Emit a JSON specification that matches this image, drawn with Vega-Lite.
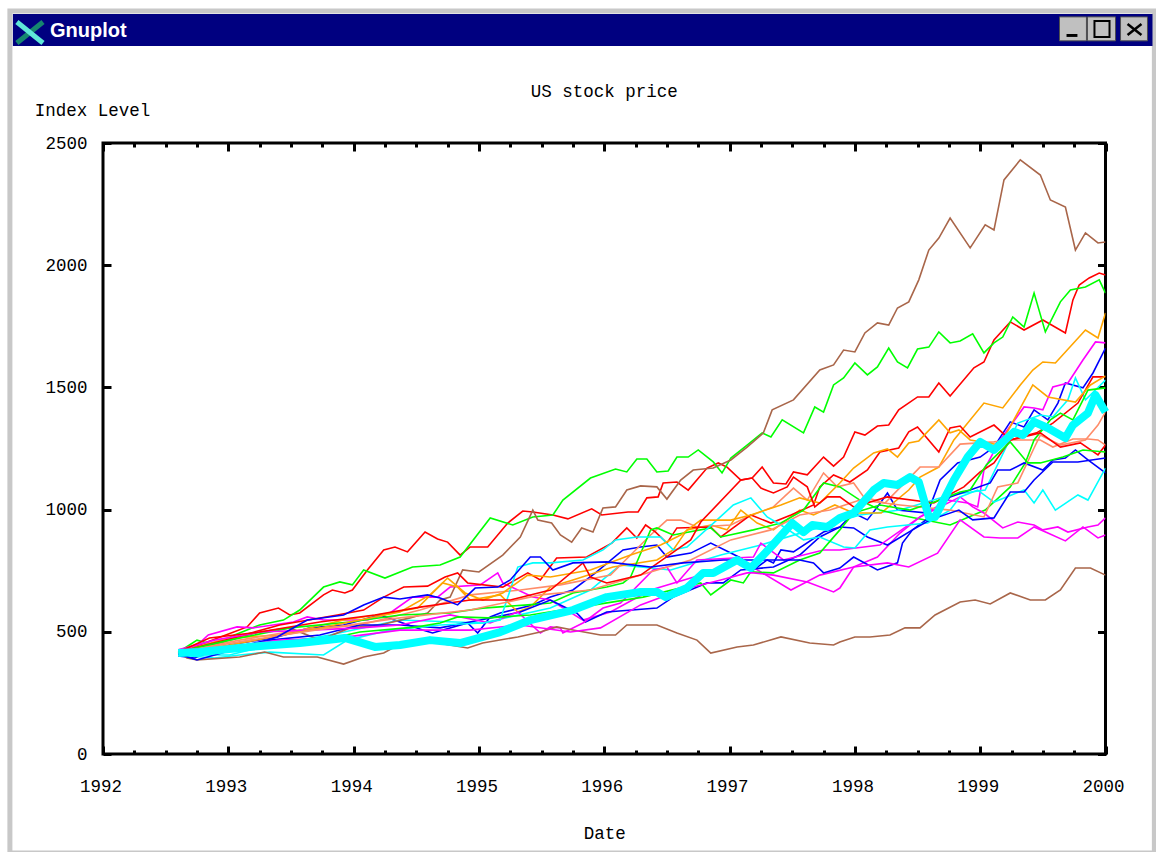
{"$schema":"https://vega.github.io/schema/vega-lite/v6.json","width":1002.5,"height":611,"autosize":{"type":"none"},"padding":{"left":103,"top":143,"right":50,"bottom":98},"background":"#ffffff","config":{"view":{"stroke":"#000000","strokeWidth":3,"fill":null},"font":"Liberation Mono"},
"title":{"text":"US stock price","anchor":"middle","offset":-92,"font":"Liberation Mono","fontSize":17.5,"fontWeight":"normal","color":"#000000"},
"datasets":{"window":[{"name":"Gnuplot"}],
"funds":[
{"fund":1,"year":1992.6,"level":417},{"fund":1,"year":1992.65,"level":426},{"fund":1,"year":1992.77,"level":446},{"fund":1,"year":1992.98,"level":487},{"fund":1,"year":1993.15,"level":520},{"fund":1,"year":1993.25,"level":577},{"fund":1,"year":1993.4,"level":597},{"fund":1,"year":1993.49,"level":569},{"fund":1,"year":1993.57,"level":577},{"fund":1,"year":1993.76,"level":651},{"fund":1,"year":1993.83,"level":671},{"fund":1,"year":1993.93,"level":659},{"fund":1,"year":1993.99,"level":671},{"fund":1,"year":1994.11,"level":753},{"fund":1,"year":1994.24,"level":835},{"fund":1,"year":1994.33,"level":847},{"fund":1,"year":1994.43,"level":827},{"fund":1,"year":1994.57,"level":908},{"fund":1,"year":1994.67,"level":880},{"fund":1,"year":1994.75,"level":867},{"fund":1,"year":1994.85,"level":814},{"fund":1,"year":1994.93,"level":847},{"fund":1,"year":1995.07,"level":847},{"fund":1,"year":1995.23,"level":945},{"fund":1,"year":1995.35,"level":994},{"fund":1,"year":1995.43,"level":990},{"fund":1,"year":1995.59,"level":978},{"fund":1,"year":1995.71,"level":962},{"fund":1,"year":1995.9,"level":1003},{"fund":1,"year":1995.98,"level":978},{"fund":1,"year":1996.19,"level":990},{"fund":1,"year":1996.27,"level":990},{"fund":1,"year":1996.34,"level":1048},{"fund":1,"year":1996.43,"level":1052},{"fund":1,"year":1996.47,"level":1109},{"fund":1,"year":1996.58,"level":1113},{"fund":1,"year":1996.67,"level":1080},{"fund":1,"year":1996.82,"level":1170},{"fund":1,"year":1996.91,"level":1191},{"fund":1,"year":1996.98,"level":1174},{"fund":1,"year":1997.09,"level":1121},{"fund":1,"year":1997.18,"level":1129},{"fund":1,"year":1997.26,"level":1174},{"fund":1,"year":1997.35,"level":1109},{"fund":1,"year":1997.45,"level":1105},{"fund":1,"year":1997.51,"level":1154},{"fund":1,"year":1997.62,"level":1142},{"fund":1,"year":1997.75,"level":1215},{"fund":1,"year":1997.83,"level":1178},{"fund":1,"year":1997.91,"level":1215},{"fund":1,"year":1998.0,"level":1318},{"fund":1,"year":1998.08,"level":1305},{"fund":1,"year":1998.18,"level":1342},{"fund":1,"year":1998.27,"level":1346},{"fund":1,"year":1998.35,"level":1408},{"fund":1,"year":1998.5,"level":1461},{"fund":1,"year":1998.59,"level":1461},{"fund":1,"year":1998.67,"level":1518},{"fund":1,"year":1998.76,"level":1465},{"fund":1,"year":1998.95,"level":1580},{"fund":1,"year":1999.03,"level":1604},{"fund":1,"year":1999.11,"level":1694},{"fund":1,"year":1999.24,"level":1768},{"fund":1,"year":1999.35,"level":1735},{"fund":1,"year":1999.5,"level":1776},{"fund":1,"year":1999.68,"level":1723},{"fund":1,"year":1999.74,"level":1858},{"fund":1,"year":1999.79,"level":1919},{"fund":1,"year":1999.87,"level":1948},{"fund":1,"year":1999.95,"level":1968},{"fund":1,"year":2000,"level":1960},
{"fund":2,"year":1992.6,"level":417},{"fund":2,"year":1992.69,"level":446},{"fund":2,"year":1992.75,"level":466},{"fund":2,"year":1992.89,"level":446},{"fund":2,"year":1993.05,"level":487},{"fund":2,"year":1993.25,"level":528},{"fund":2,"year":1993.44,"level":548},{"fund":2,"year":1993.57,"level":589},{"fund":2,"year":1993.76,"level":683},{"fund":2,"year":1993.89,"level":704},{"fund":2,"year":1993.99,"level":692},{"fund":2,"year":1994.08,"level":753},{"fund":2,"year":1994.25,"level":720},{"fund":2,"year":1994.47,"level":765},{"fund":2,"year":1994.69,"level":773},{"fund":2,"year":1994.85,"level":806},{"fund":2,"year":1995.09,"level":966},{"fund":2,"year":1995.27,"level":937},{"fund":2,"year":1995.43,"level":970},{"fund":2,"year":1995.59,"level":978},{"fund":2,"year":1995.67,"level":1039},{"fund":2,"year":1995.89,"level":1129},{"fund":2,"year":1996.09,"level":1166},{"fund":2,"year":1996.18,"level":1154},{"fund":2,"year":1996.26,"level":1207},{"fund":2,"year":1996.34,"level":1207},{"fund":2,"year":1996.42,"level":1154},{"fund":2,"year":1996.51,"level":1158},{"fund":2,"year":1996.58,"level":1215},{"fund":2,"year":1996.67,"level":1215},{"fund":2,"year":1996.75,"level":1244},{"fund":2,"year":1996.87,"level":1195},{"fund":2,"year":1996.94,"level":1150},{"fund":2,"year":1997.01,"level":1211},{"fund":2,"year":1997.14,"level":1264},{"fund":2,"year":1997.26,"level":1314},{"fund":2,"year":1997.33,"level":1297},{"fund":2,"year":1997.42,"level":1367},{"fund":2,"year":1997.59,"level":1314},{"fund":2,"year":1997.68,"level":1420},{"fund":2,"year":1997.75,"level":1399},{"fund":2,"year":1997.83,"level":1510},{"fund":2,"year":1997.91,"level":1539},{"fund":2,"year":1998.0,"level":1600},{"fund":2,"year":1998.1,"level":1551},{"fund":2,"year":1998.18,"level":1584},{"fund":2,"year":1998.27,"level":1661},{"fund":2,"year":1998.34,"level":1604},{"fund":2,"year":1998.42,"level":1580},{"fund":2,"year":1998.5,"level":1657},{"fund":2,"year":1998.59,"level":1665},{"fund":2,"year":1998.67,"level":1727},{"fund":2,"year":1998.76,"level":1682},{"fund":2,"year":1998.84,"level":1690},{"fund":2,"year":1998.94,"level":1719},{"fund":2,"year":1999.03,"level":1641},{"fund":2,"year":1999.11,"level":1682},{"fund":2,"year":1999.18,"level":1706},{"fund":2,"year":1999.26,"level":1788},{"fund":2,"year":1999.35,"level":1747},{"fund":2,"year":1999.43,"level":1886},{"fund":2,"year":1999.52,"level":1727},{"fund":2,"year":1999.64,"level":1850},{"fund":2,"year":1999.72,"level":1899},{"fund":2,"year":1999.84,"level":1911},{"fund":2,"year":1999.95,"level":1940},{"fund":2,"year":2000,"level":1886},
{"fund":3,"year":1992.6,"level":401},{"fund":3,"year":1992.73,"level":393},{"fund":3,"year":1993.01,"level":446},{"fund":3,"year":1993.39,"level":479},{"fund":3,"year":1993.65,"level":516},{"fund":3,"year":1993.92,"level":528},{"fund":3,"year":1994.21,"level":569},{"fund":3,"year":1994.55,"level":507},{"fund":3,"year":1994.63,"level":495},{"fund":3,"year":1994.91,"level":536},{"fund":3,"year":1994.99,"level":495},{"fund":3,"year":1995.09,"level":561},{"fund":3,"year":1995.17,"level":577},{"fund":3,"year":1995.43,"level":610},{"fund":3,"year":1995.57,"level":642},{"fund":3,"year":1995.75,"level":671},{"fund":3,"year":1995.93,"level":741},{"fund":3,"year":1996.15,"level":835},{"fund":3,"year":1996.29,"level":847},{"fund":3,"year":1996.42,"level":855},{"fund":3,"year":1996.5,"level":806},{"fund":3,"year":1996.69,"level":822},{"fund":3,"year":1996.85,"level":863},{"fund":3,"year":1997.09,"level":802},{"fund":3,"year":1997.19,"level":753},{"fund":3,"year":1997.3,"level":794},{"fund":3,"year":1997.35,"level":782},{"fund":3,"year":1997.41,"level":835},{"fund":3,"year":1997.51,"level":827},{"fund":3,"year":1997.75,"level":908},{"fund":3,"year":1997.88,"level":929},{"fund":3,"year":1997.99,"level":986},{"fund":3,"year":1998.1,"level":958},{"fund":3,"year":1998.18,"level":1011},{"fund":3,"year":1998.26,"level":1068},{"fund":3,"year":1998.34,"level":998},{"fund":3,"year":1998.58,"level":986},{"fund":3,"year":1998.68,"level":1121},{"fund":3,"year":1998.82,"level":1191},{"fund":3,"year":1999.0,"level":1215},{"fund":3,"year":1999.11,"level":1256},{"fund":3,"year":1999.24,"level":1359},{"fund":3,"year":1999.35,"level":1338},{"fund":3,"year":1999.43,"level":1408},{"fund":3,"year":1999.54,"level":1367},{"fund":3,"year":1999.62,"level":1436},{"fund":3,"year":1999.68,"level":1518},{"fund":3,"year":1999.82,"level":1498},{"fund":3,"year":1999.9,"level":1559},{"fund":3,"year":2000,"level":1661},
{"fund":4,"year":1992.6,"level":409},{"fund":4,"year":1992.77,"level":454},{"fund":4,"year":1992.84,"level":487},{"fund":4,"year":1993.07,"level":520},{"fund":4,"year":1993.2,"level":516},{"fund":4,"year":1993.52,"level":540},{"fund":4,"year":1993.63,"level":561},{"fund":4,"year":1993.76,"level":548},{"fund":4,"year":1994.11,"level":548},{"fund":4,"year":1994.29,"level":577},{"fund":4,"year":1994.47,"level":642},{"fund":4,"year":1994.67,"level":642},{"fund":4,"year":1994.77,"level":683},{"fund":4,"year":1995.01,"level":692},{"fund":4,"year":1995.15,"level":741},{"fund":4,"year":1995.19,"level":700},{"fund":4,"year":1995.43,"level":642},{"fund":4,"year":1995.57,"level":630},{"fund":4,"year":1995.83,"level":548},{"fund":4,"year":1996.05,"level":581},{"fund":4,"year":1996.37,"level":671},{"fund":4,"year":1996.77,"level":732},{"fund":4,"year":1997.09,"level":794},{"fund":4,"year":1997.49,"level":671},{"fund":4,"year":1997.72,"level":732},{"fund":4,"year":1997.99,"level":765},{"fund":4,"year":1998.18,"level":806},{"fund":4,"year":1998.36,"level":904},{"fund":4,"year":1998.52,"level":970},{"fund":4,"year":1998.74,"level":1039},{"fund":4,"year":1998.9,"level":1027},{"fund":4,"year":1998.98,"level":1011},{"fund":4,"year":1999.03,"level":1162},{"fund":4,"year":1999.16,"level":1285},{"fund":4,"year":1999.35,"level":1420},{"fund":4,"year":1999.43,"level":1416},{"fund":4,"year":1999.5,"level":1408},{"fund":4,"year":1999.58,"level":1502},{"fund":4,"year":1999.7,"level":1518},{"fund":4,"year":1999.82,"level":1612},{"fund":4,"year":1999.92,"level":1686},{"fund":4,"year":2000,"level":1682},
{"fund":5,"year":1992.6,"level":405},{"fund":5,"year":1993.01,"level":405},{"fund":5,"year":1993.33,"level":446},{"fund":5,"year":1993.81,"level":487},{"fund":5,"year":1994.37,"level":548},{"fund":5,"year":1995.03,"level":536},{"fund":5,"year":1995.57,"level":597},{"fund":5,"year":1995.89,"level":671},{"fund":5,"year":1996.13,"level":774},{"fund":5,"year":1996.53,"level":753},{"fund":5,"year":1996.93,"level":814},{"fund":5,"year":1997.25,"level":855},{"fund":5,"year":1997.65,"level":917},{"fund":5,"year":1998.04,"level":978},{"fund":5,"year":1998.36,"level":998},{"fund":5,"year":1998.76,"level":1060},{"fund":5,"year":1999.04,"level":1080},{"fund":5,"year":1999.3,"level":1354},{"fund":5,"year":1999.48,"level":1387},{"fund":5,"year":1999.58,"level":1379},{"fund":5,"year":1999.7,"level":1449},{"fund":5,"year":1999.76,"level":1539},{"fund":5,"year":1999.84,"level":1449},{"fund":5,"year":2000,"level":1530},
{"fund":6,"year":1992.6,"level":417},{"fund":6,"year":1992.77,"level":426},{"fund":6,"year":1993.01,"level":466},{"fund":6,"year":1993.25,"level":499},{"fund":6,"year":1993.49,"level":516},{"fund":6,"year":1993.73,"level":466},{"fund":6,"year":1993.97,"level":516},{"fund":6,"year":1994.21,"level":528},{"fund":6,"year":1994.45,"level":557},{"fund":6,"year":1994.59,"level":577},{"fund":6,"year":1994.69,"level":630},{"fund":6,"year":1994.77,"level":642},{"fund":6,"year":1994.87,"level":753},{"fund":6,"year":1995.0,"level":745},{"fund":6,"year":1995.19,"level":814},{"fund":6,"year":1995.33,"level":888},{"fund":6,"year":1995.43,"level":998},{"fund":6,"year":1995.47,"level":957},{"fund":6,"year":1995.58,"level":945},{"fund":6,"year":1995.65,"level":896},{"fund":6,"year":1995.74,"level":867},{"fund":6,"year":1995.82,"level":925},{"fund":6,"year":1995.91,"level":908},{"fund":6,"year":1995.99,"level":1007},{"fund":6,"year":1996.09,"level":1011},{"fund":6,"year":1996.18,"level":1080},{"fund":6,"year":1996.29,"level":1097},{"fund":6,"year":1996.42,"level":1093},{"fund":6,"year":1996.5,"level":1043},{"fund":6,"year":1996.61,"level":1121},{"fund":6,"year":1996.71,"level":1162},{"fund":6,"year":1996.87,"level":1170},{"fund":6,"year":1997.01,"level":1203},{"fund":6,"year":1997.14,"level":1256},{"fund":6,"year":1997.27,"level":1314},{"fund":6,"year":1997.34,"level":1408},{"fund":6,"year":1997.51,"level":1449},{"fund":6,"year":1997.72,"level":1571},{"fund":6,"year":1997.83,"level":1592},{"fund":6,"year":1997.91,"level":1653},{"fund":6,"year":1998.0,"level":1645},{"fund":6,"year":1998.08,"level":1723},{"fund":6,"year":1998.18,"level":1764},{"fund":6,"year":1998.27,"level":1755},{"fund":6,"year":1998.34,"level":1825},{"fund":6,"year":1998.43,"level":1850},{"fund":6,"year":1998.51,"level":1940},{"fund":6,"year":1998.59,"level":2062},{"fund":6,"year":1998.67,"level":2111},{"fund":6,"year":1998.76,"level":2193},{"fund":6,"year":1998.92,"level":2071},{"fund":6,"year":1999.04,"level":2165},{"fund":6,"year":1999.11,"level":2144},{"fund":6,"year":1999.19,"level":2349},{"fund":6,"year":1999.32,"level":2431},{"fund":6,"year":1999.48,"level":2369},{"fund":6,"year":1999.56,"level":2267},{"fund":6,"year":1999.68,"level":2238},{"fund":6,"year":1999.76,"level":2062},{"fund":6,"year":1999.84,"level":2132},{"fund":6,"year":1999.94,"level":2091},{"fund":6,"year":2000,"level":2095},
{"fund":7,"year":1992.6,"level":417},{"fund":7,"year":1993.01,"level":475},{"fund":7,"year":1993.41,"level":487},{"fund":7,"year":1993.92,"level":548},{"fund":7,"year":1994.29,"level":577},{"fund":7,"year":1994.51,"level":597},{"fund":7,"year":1994.71,"level":700},{"fund":7,"year":1994.83,"level":683},{"fund":7,"year":1994.93,"level":630},{"fund":7,"year":1995.17,"level":651},{"fund":7,"year":1995.31,"level":581},{"fund":7,"year":1995.41,"level":601},{"fund":7,"year":1995.57,"level":683},{"fund":7,"year":1995.75,"level":712},{"fund":7,"year":1996.07,"level":765},{"fund":7,"year":1996.42,"level":794},{"fund":7,"year":1996.55,"level":835},{"fund":7,"year":1996.66,"level":917},{"fund":7,"year":1996.85,"level":937},{"fund":7,"year":1996.98,"level":917},{"fund":7,"year":1997.09,"level":998},{"fund":7,"year":1997.22,"level":945},{"fund":7,"year":1997.35,"level":917},{"fund":7,"year":1997.56,"level":998},{"fund":7,"year":1997.67,"level":978},{"fund":7,"year":1997.84,"level":1019},{"fund":7,"year":1997.99,"level":986},{"fund":7,"year":1998.21,"level":986},{"fund":7,"year":1998.43,"level":1080},{"fund":7,"year":1998.52,"level":1133},{"fund":7,"year":1998.67,"level":1174},{"fund":7,"year":1998.79,"level":1285},{"fund":7,"year":1999.03,"level":1436},{"fund":7,"year":1999.18,"level":1416},{"fund":7,"year":1999.32,"level":1510},{"fund":7,"year":1999.42,"level":1571},{"fund":7,"year":1999.5,"level":1604},{"fund":7,"year":1999.6,"level":1600},{"fund":7,"year":1999.84,"level":1735},{"fund":7,"year":1999.94,"level":1702},{"fund":7,"year":2000,"level":1805},
{"fund":8,"year":1992.6,"level":417},{"fund":8,"year":1993.09,"level":466},{"fund":8,"year":1993.57,"level":507},{"fund":8,"year":1994.05,"level":528},{"fund":8,"year":1994.53,"level":589},{"fund":8,"year":1994.93,"level":651},{"fund":8,"year":1995.33,"level":671},{"fund":8,"year":1995.65,"level":692},{"fund":8,"year":1996.05,"level":732},{"fund":8,"year":1996.37,"level":896},{"fund":8,"year":1996.5,"level":957},{"fund":8,"year":1996.61,"level":957},{"fund":8,"year":1996.74,"level":929},{"fund":8,"year":1997.01,"level":937},{"fund":8,"year":1997.14,"level":970},{"fund":8,"year":1997.35,"level":1011},{"fund":8,"year":1997.51,"level":1088},{"fund":8,"year":1997.62,"level":1039},{"fund":8,"year":1997.75,"level":1150},{"fund":8,"year":1997.86,"level":1093},{"fund":8,"year":1997.99,"level":1109},{"fund":8,"year":1998.07,"level":1052},{"fund":8,"year":1998.24,"level":1027},{"fund":8,"year":1998.52,"level":1174},{"fund":8,"year":1998.67,"level":1174},{"fund":8,"year":1998.84,"level":1268},{"fund":8,"year":1999.11,"level":1277},{"fund":8,"year":1999.24,"level":1285},{"fund":8,"year":1999.48,"level":1285},{"fund":8,"year":1999.58,"level":1256},{"fund":8,"year":1999.74,"level":1289},{"fund":8,"year":1999.86,"level":1289},{"fund":8,"year":1999.94,"level":1285},{"fund":8,"year":2000,"level":1264},
{"fund":9,"year":1992.6,"level":417},{"fund":9,"year":1992.98,"level":466},{"fund":9,"year":1993.41,"level":528},{"fund":9,"year":1993.87,"level":569},{"fund":9,"year":1994.08,"level":589},{"fund":9,"year":1994.24,"level":642},{"fund":9,"year":1994.4,"level":683},{"fund":9,"year":1994.59,"level":687},{"fund":9,"year":1994.73,"level":724},{"fund":9,"year":1994.83,"level":741},{"fund":9,"year":1994.91,"level":700},{"fund":9,"year":1995.19,"level":683},{"fund":9,"year":1995.39,"level":741},{"fund":9,"year":1995.49,"level":712},{"fund":9,"year":1995.62,"level":802},{"fund":9,"year":1995.86,"level":806},{"fund":9,"year":1996.06,"level":863},{"fund":9,"year":1996.18,"level":925},{"fund":9,"year":1996.26,"level":884},{"fund":9,"year":1996.33,"level":937},{"fund":9,"year":1996.41,"level":908},{"fund":9,"year":1996.5,"level":863},{"fund":9,"year":1996.58,"level":925},{"fund":9,"year":1996.85,"level":929},{"fund":9,"year":1996.93,"level":888},{"fund":9,"year":1997.17,"level":978},{"fund":9,"year":1997.33,"level":945},{"fund":9,"year":1997.49,"level":978},{"fund":9,"year":1997.67,"level":1019},{"fund":9,"year":1997.72,"level":1093},{"fund":9,"year":1997.83,"level":1142},{"fund":9,"year":1997.96,"level":1113},{"fund":9,"year":1998.1,"level":1162},{"fund":9,"year":1998.2,"level":1236},{"fund":9,"year":1998.35,"level":1252},{"fund":9,"year":1998.43,"level":1318},{"fund":9,"year":1998.5,"level":1338},{"fund":9,"year":1998.67,"level":1236},{"fund":9,"year":1998.76,"level":1334},{"fund":9,"year":1998.84,"level":1342},{"fund":9,"year":1998.92,"level":1297},{"fund":9,"year":1999.11,"level":1346},{"fund":9,"year":1999.24,"level":1285},{"fund":9,"year":1999.45,"level":1314},{"fund":9,"year":1999.58,"level":1354},{"fund":9,"year":1999.78,"level":1436},{"fund":9,"year":1999.9,"level":1543},{"fund":9,"year":2000,"level":1543},
{"fund":10,"year":1992.6,"level":417},{"fund":10,"year":1993.01,"level":466},{"fund":10,"year":1993.49,"level":516},{"fund":10,"year":1993.97,"level":540},{"fund":10,"year":1994.37,"level":569},{"fund":10,"year":1994.77,"level":577},{"fund":10,"year":1995.03,"level":597},{"fund":10,"year":1995.39,"level":610},{"fund":10,"year":1995.57,"level":618},{"fund":10,"year":1995.75,"level":659},{"fund":10,"year":1996.02,"level":683},{"fund":10,"year":1996.15,"level":700},{"fund":10,"year":1996.21,"level":724},{"fund":10,"year":1996.37,"level":917},{"fund":10,"year":1996.42,"level":925},{"fund":10,"year":1996.55,"level":896},{"fund":10,"year":1996.85,"level":925},{"fund":10,"year":1996.93,"level":888},{"fund":10,"year":1997.19,"level":917},{"fund":10,"year":1997.41,"level":945},{"fund":10,"year":1997.59,"level":998},{"fund":10,"year":1997.75,"level":1109},{"fund":10,"year":1997.88,"level":1093},{"fund":10,"year":1998.04,"level":1039},{"fund":10,"year":1998.2,"level":998},{"fund":10,"year":1998.36,"level":978},{"fund":10,"year":1998.76,"level":937},{"fund":10,"year":1999.04,"level":998},{"fund":10,"year":1999.24,"level":1093},{"fund":10,"year":1999.36,"level":1191},{"fund":10,"year":1999.43,"level":1285},{"fund":10,"year":1999.56,"level":1367},{"fund":10,"year":1999.64,"level":1395},{"fund":10,"year":1999.74,"level":1367},{"fund":10,"year":1999.86,"level":1489},{"fund":10,"year":2000,"level":1498},
{"fund":11,"year":1992.6,"level":409},{"fund":11,"year":1992.93,"level":426},{"fund":11,"year":1993.33,"level":466},{"fund":11,"year":1993.73,"level":487},{"fund":11,"year":1994.05,"level":528},{"fund":11,"year":1994.37,"level":528},{"fund":11,"year":1994.69,"level":516},{"fund":11,"year":1995.01,"level":548},{"fund":11,"year":1995.33,"level":581},{"fund":11,"year":1995.57,"level":630},{"fund":11,"year":1995.78,"level":577},{"fund":11,"year":1995.85,"level":540},{"fund":11,"year":1996.02,"level":581},{"fund":11,"year":1996.42,"level":597},{"fund":11,"year":1996.55,"level":642},{"fund":11,"year":1996.82,"level":700},{"fund":11,"year":1996.95,"level":700},{"fund":11,"year":1997.09,"level":753},{"fund":11,"year":1997.35,"level":765},{"fund":11,"year":1997.56,"level":814},{"fund":11,"year":1997.72,"level":888},{"fund":11,"year":1997.88,"level":929},{"fund":11,"year":1997.99,"level":925},{"fund":11,"year":1998.1,"level":888},{"fund":11,"year":1998.26,"level":855},{"fund":11,"year":1998.46,"level":917},{"fund":11,"year":1998.6,"level":970},{"fund":11,"year":1998.76,"level":1052},{"fund":11,"year":1998.92,"level":1080},{"fund":11,"year":1999.08,"level":1109},{"fund":11,"year":1999.14,"level":1162},{"fund":11,"year":1999.24,"level":1162},{"fund":11,"year":1999.35,"level":1191},{"fund":11,"year":1999.5,"level":1162},{"fund":11,"year":1999.58,"level":1203},{"fund":11,"year":1999.68,"level":1211},{"fund":11,"year":1999.76,"level":1244},{"fund":11,"year":1999.86,"level":1203},{"fund":11,"year":2000,"level":1150},
{"fund":12,"year":1992.6,"level":426},{"fund":12,"year":1992.89,"level":466},{"fund":12,"year":1993.25,"level":499},{"fund":12,"year":1993.65,"level":507},{"fund":12,"year":1994.05,"level":516},{"fund":12,"year":1994.37,"level":528},{"fund":12,"year":1994.77,"level":569},{"fund":12,"year":1995.09,"level":536},{"fund":12,"year":1995.31,"level":581},{"fund":12,"year":1995.49,"level":495},{"fund":12,"year":1995.57,"level":520},{"fund":12,"year":1995.65,"level":516},{"fund":12,"year":1995.67,"level":495},{"fund":12,"year":1995.83,"level":536},{"fund":12,"year":1995.99,"level":597},{"fund":12,"year":1996.13,"level":618},{"fund":12,"year":1996.39,"level":753},{"fund":12,"year":1996.5,"level":765},{"fund":12,"year":1996.58,"level":700},{"fund":12,"year":1996.74,"level":794},{"fund":12,"year":1997.19,"level":806},{"fund":12,"year":1997.25,"level":863},{"fund":12,"year":1997.43,"level":794},{"fund":12,"year":1997.75,"level":835},{"fund":12,"year":1997.88,"level":835},{"fund":12,"year":1998.2,"level":855},{"fund":12,"year":1998.52,"level":970},{"fund":12,"year":1998.84,"level":1052},{"fund":12,"year":1998.94,"level":1011},{"fund":12,"year":1999.03,"level":986},{"fund":12,"year":1999.18,"level":925},{"fund":12,"year":1999.3,"level":949},{"fund":12,"year":1999.43,"level":937},{"fund":12,"year":1999.5,"level":917},{"fund":12,"year":1999.62,"level":929},{"fund":12,"year":1999.7,"level":908},{"fund":12,"year":1999.86,"level":929},{"fund":12,"year":1999.94,"level":937},{"fund":12,"year":2000,"level":966},
{"fund":13,"year":1992.6,"level":405},{"fund":13,"year":1992.89,"level":393},{"fund":13,"year":1993.09,"level":405},{"fund":13,"year":1993.33,"level":417},{"fund":13,"year":1993.76,"level":405},{"fund":13,"year":1993.95,"level":466},{"fund":13,"year":1994.29,"level":507},{"fund":13,"year":1994.69,"level":528},{"fund":13,"year":1995.03,"level":536},{"fund":13,"year":1995.17,"level":548},{"fund":13,"year":1995.31,"level":765},{"fund":13,"year":1995.43,"level":782},{"fund":13,"year":1995.57,"level":782},{"fund":13,"year":1995.83,"level":794},{"fund":13,"year":1995.99,"level":835},{"fund":13,"year":1996.09,"level":876},{"fund":13,"year":1996.26,"level":888},{"fund":13,"year":1996.45,"level":888},{"fund":13,"year":1996.55,"level":835},{"fund":13,"year":1996.66,"level":847},{"fund":13,"year":1996.9,"level":958},{"fund":13,"year":1997.03,"level":1019},{"fund":13,"year":1997.17,"level":1048},{"fund":13,"year":1997.3,"level":970},{"fund":13,"year":1997.41,"level":937},{"fund":13,"year":1997.59,"level":876},{"fund":13,"year":1997.72,"level":888},{"fund":13,"year":1997.91,"level":847},{"fund":13,"year":1998.0,"level":843},{"fund":13,"year":1998.12,"level":917},{"fund":13,"year":1998.26,"level":929},{"fund":13,"year":1998.58,"level":945},{"fund":13,"year":1998.76,"level":998},{"fund":13,"year":1998.84,"level":1052},{"fund":13,"year":1998.98,"level":1080},{"fund":13,"year":1999.11,"level":1031},{"fund":13,"year":1999.35,"level":1080},{"fund":13,"year":1999.43,"level":1027},{"fund":13,"year":1999.5,"level":1080},{"fund":13,"year":1999.6,"level":998},{"fund":13,"year":1999.78,"level":1060},{"fund":13,"year":1999.86,"level":1039},{"fund":13,"year":2000,"level":1170},
{"fund":14,"year":1992.6,"level":417},{"fund":14,"year":1992.67,"level":393},{"fund":14,"year":1992.75,"level":385},{"fund":14,"year":1993.09,"level":397},{"fund":14,"year":1993.29,"level":417},{"fund":14,"year":1993.44,"level":397},{"fund":14,"year":1993.71,"level":397},{"fund":14,"year":1993.92,"level":368},{"fund":14,"year":1994.08,"level":397},{"fund":14,"year":1994.24,"level":413},{"fund":14,"year":1994.4,"level":458},{"fund":14,"year":1994.51,"level":454},{"fund":14,"year":1994.67,"level":454},{"fund":14,"year":1994.91,"level":434},{"fund":14,"year":1995.03,"level":454},{"fund":14,"year":1995.31,"level":479},{"fund":14,"year":1995.49,"level":499},{"fund":14,"year":1995.62,"level":520},{"fund":14,"year":1995.75,"level":507},{"fund":14,"year":1995.97,"level":487},{"fund":14,"year":1996.09,"level":487},{"fund":14,"year":1996.18,"level":528},{"fund":14,"year":1996.42,"level":528},{"fund":14,"year":1996.58,"level":495},{"fund":14,"year":1996.74,"level":466},{"fund":14,"year":1996.85,"level":413},{"fund":14,"year":1997.06,"level":438},{"fund":14,"year":1997.19,"level":446},{"fund":14,"year":1997.41,"level":479},{"fund":14,"year":1997.64,"level":454},{"fund":14,"year":1997.83,"level":446},{"fund":14,"year":1997.88,"level":458},{"fund":14,"year":1998.0,"level":479},{"fund":14,"year":1998.12,"level":479},{"fund":14,"year":1998.28,"level":487},{"fund":14,"year":1998.4,"level":516},{"fund":14,"year":1998.52,"level":516},{"fund":14,"year":1998.64,"level":569},{"fund":14,"year":1998.84,"level":622},{"fund":14,"year":1998.96,"level":630},{"fund":14,"year":1999.08,"level":614},{"fund":14,"year":1999.24,"level":659},{"fund":14,"year":1999.4,"level":630},{"fund":14,"year":1999.52,"level":630},{"fund":14,"year":1999.64,"level":671},{"fund":14,"year":1999.76,"level":761},{"fund":14,"year":1999.88,"level":761},{"fund":14,"year":2000,"level":732},
{"fund":15,"year":1992.6,"level":417},{"fund":15,"year":1993.01,"level":446},{"fund":15,"year":1993.57,"level":499},{"fund":15,"year":1994.05,"level":548},{"fund":15,"year":1994.37,"level":581},{"fund":15,"year":1994.61,"level":651},{"fund":15,"year":1994.75,"level":720},{"fund":15,"year":1994.89,"level":659},{"fund":15,"year":1995.03,"level":630},{"fund":15,"year":1995.19,"level":659},{"fund":15,"year":1995.39,"level":732},{"fund":15,"year":1995.57,"level":724},{"fund":15,"year":1995.89,"level":753},{"fund":15,"year":1996.21,"level":814},{"fund":15,"year":1996.45,"level":855},{"fund":15,"year":1996.61,"level":896},{"fund":15,"year":1996.77,"level":957},{"fund":15,"year":1997.01,"level":957},{"fund":15,"year":1997.17,"level":978},{"fund":15,"year":1997.41,"level":1019},{"fund":15,"year":1997.56,"level":1048},{"fund":15,"year":1997.72,"level":1027},{"fund":15,"year":1997.88,"level":1109},{"fund":15,"year":1997.99,"level":1170},{"fund":15,"year":1998.15,"level":1232},{"fund":15,"year":1998.26,"level":1248},{"fund":15,"year":1998.34,"level":1215},{"fund":15,"year":1998.43,"level":1273},{"fund":15,"year":1998.51,"level":1281},{"fund":15,"year":1998.67,"level":1367},{"fund":15,"year":1998.76,"level":1314},{"fund":15,"year":1998.83,"level":1326},{"fund":15,"year":1998.92,"level":1285},{"fund":15,"year":1999.16,"level":1264},{"fund":15,"year":1999.42,"level":1510},{"fund":15,"year":1999.54,"level":1461},{"fund":15,"year":1999.76,"level":1440},{"fund":15,"year":1999.88,"level":1510},{"fund":15,"year":2000,"level":1547},
{"fund":16,"year":1992.6,"level":417},{"fund":16,"year":1993.17,"level":466},{"fund":16,"year":1993.81,"level":516},{"fund":16,"year":1994.37,"level":557},{"fund":16,"year":1994.93,"level":589},{"fund":16,"year":1995.49,"level":651},{"fund":16,"year":1995.89,"level":671},{"fund":16,"year":1996.29,"level":732},{"fund":16,"year":1996.69,"level":794},{"fund":16,"year":1997.01,"level":876},{"fund":16,"year":1997.33,"level":917},{"fund":16,"year":1997.56,"level":978},{"fund":16,"year":1997.8,"level":998},{"fund":16,"year":1998.04,"level":1039},{"fund":16,"year":1998.36,"level":1019},{"fund":16,"year":1998.76,"level":998},{"fund":16,"year":1999.03,"level":970},{"fund":16,"year":1999.14,"level":1093},{"fund":16,"year":1999.3,"level":1109},{"fund":16,"year":1999.43,"level":1252},{"fund":16,"year":1999.48,"level":1305},{"fund":16,"year":1999.64,"level":1264},{"fund":16,"year":1999.84,"level":1285},{"fund":16,"year":1999.94,"level":1346},{"fund":16,"year":2000,"level":1400},
{"fund":17,"year":1992.6,"level":417},{"fund":17,"year":1992.85,"level":475},{"fund":17,"year":1993.25,"level":499},{"fund":17,"year":1993.73,"level":540},{"fund":17,"year":1994.17,"level":569},{"fund":17,"year":1994.53,"level":601},{"fund":17,"year":1994.93,"level":630},{"fund":17,"year":1995.25,"level":630},{"fund":17,"year":1995.57,"level":671},{"fund":17,"year":1995.83,"level":782},{"fund":17,"year":1995.89,"level":724},{"fund":17,"year":1996.02,"level":700},{"fund":17,"year":1996.29,"level":732},{"fund":17,"year":1996.69,"level":876},{"fund":17,"year":1996.77,"level":949},{"fund":17,"year":1997.09,"level":1121},{"fund":17,"year":1997.18,"level":1129},{"fund":17,"year":1997.25,"level":1088},{"fund":17,"year":1997.35,"level":1068},{"fund":17,"year":1997.46,"level":1093},{"fund":17,"year":1997.51,"level":1133},{"fund":17,"year":1997.62,"level":1093},{"fund":17,"year":1997.68,"level":1011},{"fund":17,"year":1997.78,"level":1052},{"fund":17,"year":1997.88,"level":1052},{"fund":17,"year":1997.99,"level":1011},{"fund":17,"year":1998.26,"level":1052},{"fund":17,"year":1998.63,"level":1027},{"fund":17,"year":1998.87,"level":1093},{"fund":17,"year":1999.0,"level":1154},{"fund":17,"year":1999.11,"level":1191},{"fund":17,"year":1999.24,"level":1285},{"fund":17,"year":1999.48,"level":1314},{"fund":17,"year":1999.64,"level":1256},{"fund":17,"year":1999.8,"level":1273},{"fund":17,"year":1999.94,"level":1224},{"fund":17,"year":2000,"level":1264},
{"fund":18,"year":1992.6,"level":417},{"fund":18,"year":1993.09,"level":426},{"fund":18,"year":1993.57,"level":446},{"fund":18,"year":1994.05,"level":499},{"fund":18,"year":1994.51,"level":520},{"fund":18,"year":1994.69,"level":536},{"fund":18,"year":1994.83,"level":561},{"fund":18,"year":1995.07,"level":557},{"fund":18,"year":1995.41,"level":569},{"fund":18,"year":1995.81,"level":601},{"fund":18,"year":1996.31,"level":642},{"fund":18,"year":1996.77,"level":700},{"fund":18,"year":1996.85,"level":651},{"fund":18,"year":1997.01,"level":712},{"fund":18,"year":1997.11,"level":700},{"fund":18,"year":1997.17,"level":745},{"fund":18,"year":1997.35,"level":741},{"fund":18,"year":1997.56,"level":794},{"fund":18,"year":1997.72,"level":822},{"fund":18,"year":1997.88,"level":917},{"fund":18,"year":1997.99,"level":986},{"fund":18,"year":1998.2,"level":1019},{"fund":18,"year":1998.44,"level":998},{"fund":18,"year":1998.68,"level":1039},{"fund":18,"year":1998.84,"level":1072},{"fund":18,"year":1998.92,"level":1080},{"fund":18,"year":1999.05,"level":1183},{"fund":18,"year":1999.24,"level":1277},{"fund":18,"year":1999.38,"level":1191},{"fund":18,"year":1999.48,"level":1191},{"fund":18,"year":1999.66,"level":1215},{"fund":18,"year":1999.82,"level":1244},{"fund":18,"year":2000,"level":1236},
{"fund":19,"year":1992.6,"level":409},{"fund":19,"year":1992.75,"level":385},{"fund":19,"year":1993.09,"level":434},{"fund":19,"year":1993.39,"level":479},{"fund":19,"year":1993.63,"level":548},{"fund":19,"year":1993.92,"level":569},{"fund":19,"year":1994.08,"level":610},{"fund":19,"year":1994.24,"level":642},{"fund":19,"year":1994.37,"level":634},{"fund":19,"year":1994.59,"level":651},{"fund":19,"year":1994.69,"level":638},{"fund":19,"year":1994.83,"level":610},{"fund":19,"year":1994.97,"level":679},{"fund":19,"year":1995.15,"level":683},{"fund":19,"year":1995.25,"level":712},{"fund":19,"year":1995.41,"level":806},{"fund":19,"year":1995.49,"level":806},{"fund":19,"year":1995.59,"level":753},{"fund":19,"year":1995.75,"level":782},{"fund":19,"year":1996.02,"level":786},{"fund":19,"year":1996.37,"level":765},{"fund":19,"year":1996.63,"level":782},{"fund":19,"year":1996.95,"level":794},{"fund":19,"year":1997.56,"level":794},{"fund":19,"year":1997.67,"level":782},{"fund":19,"year":1997.75,"level":741},{"fund":19,"year":1997.88,"level":761},{"fund":19,"year":1997.99,"level":806},{"fund":19,"year":1998.18,"level":753},{"fund":19,"year":1998.34,"level":782},{"fund":19,"year":1998.38,"level":863},{"fund":19,"year":1998.46,"level":917},{"fund":19,"year":1998.6,"level":958},{"fund":19,"year":1998.83,"level":998},{"fund":19,"year":1998.94,"level":958},{"fund":19,"year":1999.11,"level":966},{"fund":19,"year":1999.24,"level":1072},{"fund":19,"year":1999.35,"level":1072},{"fund":19,"year":1999.43,"level":1121},{"fund":19,"year":1999.58,"level":1195},{"fund":19,"year":1999.78,"level":1195},{"fund":19,"year":2000,"level":1211},
{"fund":20,"year":1992.6,"level":426},{"fund":20,"year":1992.98,"level":434},{"fund":20,"year":1993.41,"level":466},{"fund":20,"year":1993.89,"level":475},{"fund":20,"year":1994.37,"level":507},{"fund":20,"year":1994.93,"level":507},{"fund":20,"year":1995.33,"level":528},{"fund":20,"year":1995.73,"level":499},{"fund":20,"year":1995.97,"level":516},{"fund":20,"year":1996.29,"level":610},{"fund":20,"year":1996.61,"level":671},{"fund":20,"year":1996.93,"level":712},{"fund":20,"year":1997.14,"level":741},{"fund":20,"year":1997.19,"level":741},{"fund":20,"year":1997.35,"level":732},{"fund":20,"year":1997.62,"level":704},{"fund":20,"year":1997.83,"level":663},{"fund":20,"year":1997.88,"level":679},{"fund":20,"year":1997.99,"level":765},{"fund":20,"year":1998.26,"level":782},{"fund":20,"year":1998.43,"level":765},{"fund":20,"year":1998.66,"level":822},{"fund":20,"year":1998.84,"level":958},{"fund":20,"year":1999.03,"level":888},{"fund":20,"year":1999.16,"level":884},{"fund":20,"year":1999.3,"level":884},{"fund":20,"year":1999.43,"level":929},{"fund":20,"year":1999.54,"level":904},{"fund":20,"year":1999.68,"level":872},{"fund":20,"year":1999.82,"level":929},{"fund":20,"year":1999.94,"level":884},{"fund":20,"year":2000,"level":896}
],
"index":[
{"year":1992.6,"level":413},{"year":1992.77,"level":417},{"year":1993.17,"level":438},{"year":1993.57,"level":454},{"year":1993.93,"level":475},{"year":1994.17,"level":438},{"year":1994.37,"level":446},{"year":1994.61,"level":466},{"year":1994.85,"level":454},{"year":1995.17,"level":499},{"year":1995.41,"level":548},{"year":1995.75,"level":589},{"year":1996.02,"level":642},{"year":1996.29,"level":663},{"year":1996.42,"level":663},{"year":1996.49,"level":642},{"year":1996.66,"level":679},{"year":1996.79,"level":741},{"year":1996.87,"level":741},{"year":1997.06,"level":794},{"year":1997.17,"level":761},{"year":1997.33,"level":847},{"year":1997.5,"level":945},{"year":1997.59,"level":908},{"year":1997.66,"level":937},{"year":1997.78,"level":929},{"year":1997.88,"level":966},{"year":1997.99,"level":986},{"year":1998.15,"level":1080},{"year":1998.23,"level":1109},{"year":1998.34,"level":1101},{"year":1998.44,"level":1133},{"year":1998.51,"level":1113},{"year":1998.59,"level":970},{"year":1998.64,"level":970},{"year":1998.79,"level":1121},{"year":1998.9,"level":1215},{"year":1999.0,"level":1277},{"year":1999.11,"level":1244},{"year":1999.27,"level":1318},{"year":1999.34,"level":1305},{"year":1999.43,"level":1359},{"year":1999.54,"level":1334},{"year":1999.68,"level":1293},{"year":1999.74,"level":1346},{"year":1999.86,"level":1395},{"year":1999.92,"level":1469},{"year":2000,"level":1399}
]},
"resolve":{"axis":{"x":"independent","y":"independent"}},
"layer":[
{"data":{"name":"window"},"mark":{"type":"rect","fill":null,"stroke":"#c8c8c8","strokeWidth":5},"encoding":{"x":{"datum":1991.257,"type":"quantitative","axis":null},"x2":{"datum":2000.39},"y":{"datum":3040,"type":"quantitative","axis":null},"y2":{"datum":-405}}},
{"data":{"name":"window"},"mark":{"type":"rect","fill":"#000080"},"encoding":{"x":{"datum":1991.281,"type":"quantitative","axis":null},"x2":{"datum":2000.375},"y":{"datum":3028,"type":"quantitative","axis":null},"y2":{"datum":2897}}},
{"data":{"name":"window"},"mark":{"type":"rule","stroke":"#16866f","strokeWidth":5},"encoding":{"x":{"datum":1991.313,"type":"quantitative","axis":null},"x2":{"datum":1991.521},"y":{"datum":2909,"type":"quantitative","axis":null},"y2":{"datum":2995}}},
{"data":{"name":"window"},"mark":{"type":"rule","stroke":"#5fe8d8","strokeWidth":5},"encoding":{"x":{"datum":1991.313,"type":"quantitative","axis":null},"x2":{"datum":1991.521},"y":{"datum":2995,"type":"quantitative","axis":null},"y2":{"datum":2909}}},
{"data":{"name":"window"},"mark":{"type":"text","align":"left","baseline":"alphabetic","font":"Liberation Sans","fontWeight":"bold","fontSize":20,"fill":"#ffffff"},"encoding":{"x":{"datum":1991.577,"type":"quantitative","axis":null},"y":{"datum":2934,"type":"quantitative","axis":null},"text":{"field":"name"}}},
{"data":{"name":"window"},"mark":{"type":"rect","fill":"#c0c0c0","stroke":"#505050","strokeWidth":1},"encoding":{"x":{"datum":1999.633,"type":"quantitative","axis":null},"x2":{"datum":1999.848},"y":{"datum":3016,"type":"quantitative","axis":null},"y2":{"datum":2918}}},
{"data":{"name":"window"},"mark":{"type":"rect","fill":"#c0c0c0","stroke":"#505050","strokeWidth":1},"encoding":{"x":{"datum":1999.856,"type":"quantitative","axis":null},"x2":{"datum":2000.08},"y":{"datum":3016,"type":"quantitative","axis":null},"y2":{"datum":2918}}},
{"data":{"name":"window"},"mark":{"type":"rect","fill":"#c0c0c0","stroke":"#505050","strokeWidth":1},"encoding":{"x":{"datum":2000.12,"type":"quantitative","axis":null},"x2":{"datum":2000.335},"y":{"datum":3016,"type":"quantitative","axis":null},"y2":{"datum":2918}}},
{"data":{"name":"window"},"mark":{"type":"rect","fill":"#000000"},"encoding":{"x":{"datum":1999.689,"type":"quantitative","axis":null},"x2":{"datum":1999.776},"y":{"datum":2946,"type":"quantitative","axis":null},"y2":{"datum":2934}}},
{"data":{"name":"window"},"mark":{"type":"rect","fill":null,"stroke":"#000000","strokeWidth":2},"encoding":{"x":{"datum":1999.912,"type":"quantitative","axis":null},"x2":{"datum":2000.032},"y":{"datum":2999,"type":"quantitative","axis":null},"y2":{"datum":2934}}},
{"data":{"name":"window"},"mark":{"type":"rule","stroke":"#000000","strokeWidth":2.5},"encoding":{"x":{"datum":2000.176,"type":"quantitative","axis":null},"x2":{"datum":2000.287},"y":{"datum":2987,"type":"quantitative","axis":null},"y2":{"datum":2942}}},
{"data":{"name":"window"},"mark":{"type":"rule","stroke":"#000000","strokeWidth":2.5},"encoding":{"x":{"datum":2000.176,"type":"quantitative","axis":null},"x2":{"datum":2000.287},"y":{"datum":2942,"type":"quantitative","axis":null},"y2":{"datum":2987}}},
{"data":{"name":"funds"},"mark":{"type":"line","strokeWidth":1.6,"clip":true},"encoding":{
"x":{"field":"year","type":"quantitative","scale":{"domain":[1992,2000],"nice":false,"zero":false},"axis":{"orient":"bottom","title":"Date","values":[1992,1993,1994,1995,1996,1997,1998,1999,2000],"format":"d","grid":false,"domain":false,"tickColor":"#000000","tickWidth":3,"tickSize":-8,"labelFont":"Liberation Mono","labelFontSize":17.5,"labelColor":"#000000","labelPadding":31,"labelOffset":-2.5,"labelFlush":false,"labelOverlap":false,"titleFont":"Liberation Mono","titleFontSize":17.5,"titleFontWeight":"normal","titleColor":"#000000","titleY":84,"titleBaseline":"alphabetic"}},
"y":{"field":"level","type":"quantitative","scale":{"domain":[0,2500],"nice":false,"zero":false},"axis":{"orient":"left","title":"Index Level","values":[0,500,1000,1500,2000,2500],"format":"d","grid":false,"domain":false,"tickColor":"#000000","tickWidth":3,"tickSize":-8,"labelFont":"Liberation Mono","labelFontSize":17.5,"labelColor":"#000000","labelPadding":24,"labelFlush":false,"labelOverlap":false,"titleFont":"Liberation Mono","titleFontSize":17.5,"titleFontWeight":"normal","titleColor":"#000000","titleAngle":0,"titleAlign":"center","titleBaseline":"alphabetic","titleX":-11,"titleY":-28}},
"detail":{"field":"fund","type":"nominal"},
"color":{"field":"fund","type":"nominal","legend":null,"scale":{"domain":[1,2,3,4,5,6,7,8,9,10,11,12,13,14,15,16,17,18,19,20],"range":["#ff0000","#00ff00","#0000ff","#ff00ff","#00ffff","#a9664a","#ffa500","#ff8c69","#ff0000","#00ff00","#0000ff","#ff00ff","#00ffff","#a9664a","#ffa500","#ff8c69","#ff0000","#00ff00","#0000ff","#ff00ff"]}}}},
{"data":{"name":"index"},"mark":{"type":"line","strokeWidth":8,"stroke":"#00ffff","strokeJoin":"round"},"encoding":{"x":{"field":"year","type":"quantitative","axis":null},"y":{"field":"level","type":"quantitative","axis":null}}},
{"data":{"name":"window"},"mark":{"type":"rule","opacity":0},"encoding":{"x":{"datum":1992,"type":"quantitative","axis":{"orient":"top","title":null,"values":[1992,1993,1994,1995,1996,1997,1998,1999,2000],"labels":false,"grid":false,"domain":false,"tickColor":"#000000","tickWidth":3,"tickSize":-8}},"y":{"datum":0,"type":"quantitative","axis":{"orient":"right","title":null,"values":[0,500,1000,1500,2000,2500],"labels":false,"grid":false,"domain":false,"tickColor":"#000000","tickWidth":3,"tickSize":-8}}}},
{"data":{"name":"window"},"mark":{"type":"rule","opacity":0},"encoding":{"x":{"datum":1992,"type":"quantitative","axis":{"orient":"bottom","title":null,"values":[1992.25,1992.5,1992.75,1993.25,1993.5,1993.75,1994.25,1994.5,1994.75,1995.25,1995.5,1995.75,1996.25,1996.5,1996.75,1997.25,1997.5,1997.75,1998.25,1998.5,1998.75,1999.25,1999.5,1999.75],"labels":false,"grid":false,"domain":false,"tickColor":"#000000","tickWidth":3,"tickSize":-4}},"y":{"datum":0,"type":"quantitative","axis":null}}},
{"data":{"name":"window"},"mark":{"type":"rule","opacity":0},"encoding":{"x":{"datum":1992,"type":"quantitative","axis":{"orient":"top","title":null,"values":[1992.25,1992.5,1992.75,1993.25,1993.5,1993.75,1994.25,1994.5,1994.75,1995.25,1995.5,1995.75,1996.25,1996.5,1996.75,1997.25,1997.5,1997.75,1998.25,1998.5,1998.75,1999.25,1999.5,1999.75],"labels":false,"grid":false,"domain":false,"tickColor":"#000000","tickWidth":3,"tickSize":-4}},"y":{"datum":0,"type":"quantitative","axis":null}}}
]}
